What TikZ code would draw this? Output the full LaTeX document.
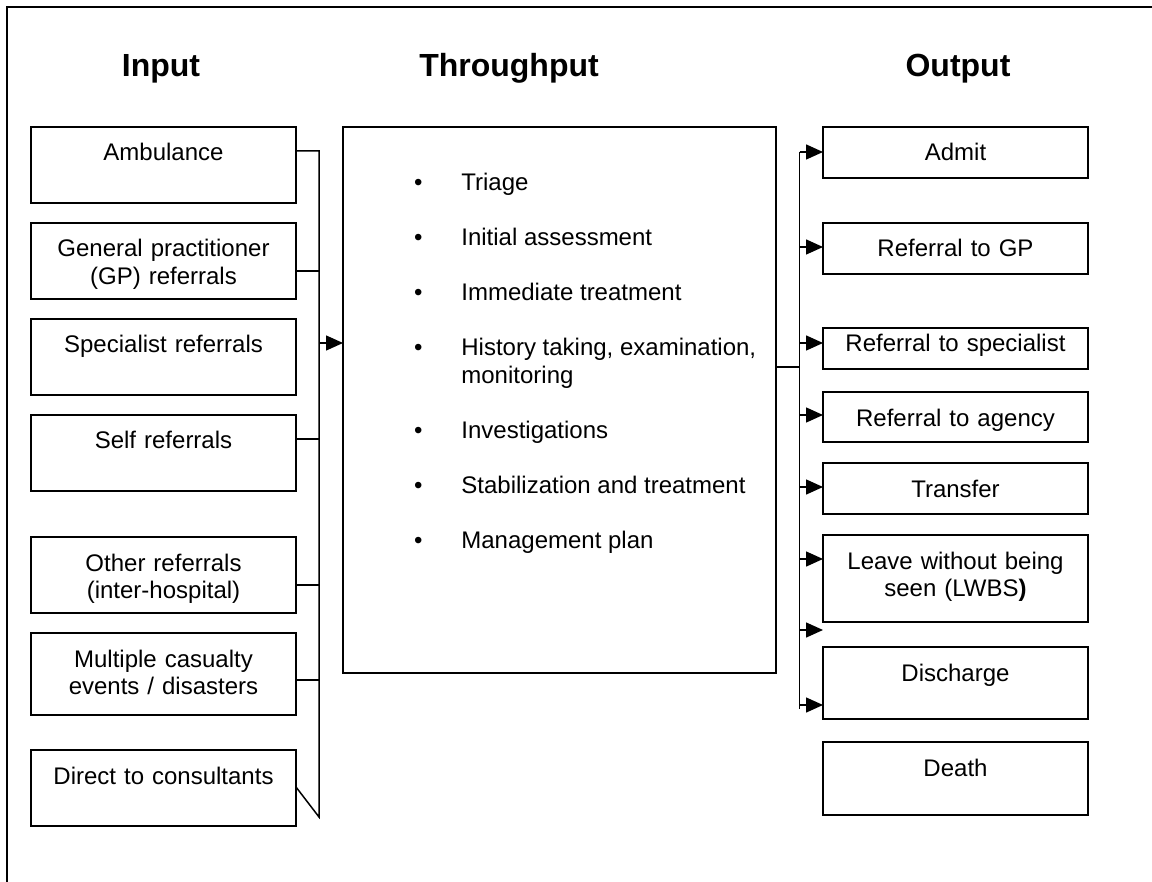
\documentclass[tikz,border=0pt]{standalone}
\usepackage{fontspec}
\setmainfont{Liberation Sans}
\usetikzlibrary{positioning,arrows.meta}

\begin{document}
\begin{tikzpicture}[
    x=1pt, y=1pt,
    line width=0.75pt,
    every node/.style={outer sep=0pt},
    body/.style={font=\fontsize{12}{13.8}\selectfont},
    heading/.style={font=\fontsize{16}{19}\selectfont\bfseries, anchor=base},
    flowbox/.style={
        draw,
        body,
        text width=132.5pt,
        align=center,
        inner sep=0pt,
        text height=17pt,
        text depth=#1
        },
    link/.style={line width=0.75pt},
    arr/.style={-{Triangle[length=8.5pt,width=7.5pt]}, line width=0.75pt}
]
\useasboundingbox (0,0) rectangle (576,-441);

% draw outer boader
\draw (576,-3.5) -- (3.5,-3.5) -- (3.5,-441);

% Column headings
\node[heading] (input-title) at (80.5,-38.5) {Input};
\node[heading] (thru-title) at (254.5,-38.5) {Throughput};
\node[heading] (output-title) at (479,-38.5) {Output};

% Input boxes
\node[flowbox=21pt, anchor=north west] (amb) at (15.5,-63.5) {Ambulance};
\node[flowbox=21pt, below=10pt of amb] (gp) {General practitioner\\(GP) referrals};
\node[flowbox=21pt, below=10pt of gp] (spec) {Specialist referrals};
\node[flowbox=21pt, below=10pt of spec] (self) {Self referrals};
\node[flowbox=21pt, below=23pt of self] (other) {Other referrals\\(inter-hospital)};
\node[flowbox=24pt, below=10pt of other] (multi) {Multiple casualty\\events / disasters};
\node[flowbox=21pt, below=17.5pt of multi] (direct) {Direct to consultants};

% Throughput box
\node[draw, minimum width=216.5pt, minimum height=273pt, inner sep=0pt, anchor=north west] (thru) at (171.5,-63.5) {};
\node[body, anchor=base west, inner sep=0pt] (steps) at (207,-95.5) {%
    \begin{tabular}[t]{@{}l@{\hspace{19.5pt}}l@{}}
        \textbullet & Triage\\[13.7pt]
        \textbullet & Initial assessment\\[13.7pt]
        \textbullet & Immediate treatment\\[13.7pt]
        \textbullet & History taking, examination,\\
                    & monitoring\\[13.7pt]
        \textbullet & Investigations\\[13.7pt]
        \textbullet & Stabilization and treatment\\[13.7pt]
        \textbullet & Management plan
    \end{tabular}};

% Output boxes
\node[flowbox=8.5pt, anchor=north west] (admit) at (411.5,-63.5) {Admit};
\node[flowbox=8.5pt, below=22.5pt of admit] (refgp) {Referral to GP};
\node[flowbox=9pt, text height=11.5pt, below=27pt of refgp] (refspec) {Referral to specialist};
\node[flowbox=8pt, below=11.5pt of refspec] (agency) {Referral to agency};
\node[flowbox=8.5pt, below=10.5pt of agency] (transfer) {Transfer};
\node[flowbox=26.5pt, below=10.5pt of transfer] (lwbs) {Leave without being\\seen (LWBS\textbf{)}};
\node[flowbox=19pt, below=12.5pt of lwbs] (discharge) {Discharge};
\node[flowbox=19.5pt, below=11.5pt of discharge] (death) {Death};

% Bus points
\coordinate (inbus) at ([xshift=-12pt]thru.west);
\coordinate (outbus) at ([xshift=11.75pt]thru.east);
\coordinate (amb-out) at ([yshift=-12pt]amb.north east);
\coordinate (gp-out) at ([yshift=-24pt]gp.north east);
\coordinate (spec-out) at ([yshift=-12pt]spec.north east);
\coordinate (self-out) at ([yshift=-12pt]self.north east);
\coordinate (other-out) at ([yshift=-24pt]other.north east);
\coordinate (multi-out) at ([yshift=-23.5pt]multi.north east);
\coordinate (direct-out) at ([yshift=-18.5pt]direct.north east);
\coordinate (direct-end) at ([yshift=-33.5pt]direct.north east);
\coordinate (thru-out) at ([yshift=-120pt]thru.north east);
\coordinate (admit-in) at ([yshift=-12.5pt]admit.north west);
\coordinate (refgp-in) at ([yshift=-12pt]refgp.north west);
\coordinate (refspec-in) at ([yshift=-7.5pt]refspec.north west);
\coordinate (agency-in) at ([yshift=-11.5pt]agency.north west);
\coordinate (transfer-in) at ([yshift=-12pt]transfer.north west);
\coordinate (lwbs-in) at ([yshift=-12pt]lwbs.north west);
\coordinate (loose-in) at ([yshift=8.5pt]discharge.north west);
\coordinate (discharge-in) at ([yshift=-29pt]discharge.north west);
\coordinate (discharge-end) at ([yshift=-31pt]discharge.north west);

% Input lines
\draw[link] (amb-out) -| (inbus |- direct-end) -- (direct-out);
\draw[link] (gp-out) -- (inbus |- gp-out);
\draw[link] (self-out) -- (inbus |- self-out);
\draw[link] (other-out) -- (inbus |- other-out);
\draw[link] (multi-out) -- (inbus |- multi-out);
\draw[arr] (inbus |- spec-out) -- (thru.west |- spec-out);

% Output lines and arrows
\draw[link] (thru-out) -- (outbus |- thru-out);
\draw[link] (outbus |- admit-in) -- (outbus |- discharge-end);
\draw[arr] (outbus |- admit-in) -- (admit-in);
\draw[arr] (outbus |- refgp-in) -- (refgp-in);
\draw[arr] (outbus |- refspec-in) -- (refspec-in);
\draw[arr] (outbus |- agency-in) -- (agency-in);
\draw[arr] (outbus |- transfer-in) -- (transfer-in);
\draw[arr] (outbus |- lwbs-in) -- (lwbs-in);
\draw[arr] (outbus |- loose-in) -- (loose-in);
\draw[arr] (outbus |- discharge-in) -- (discharge-in);

\end{tikzpicture}
\end{document}
